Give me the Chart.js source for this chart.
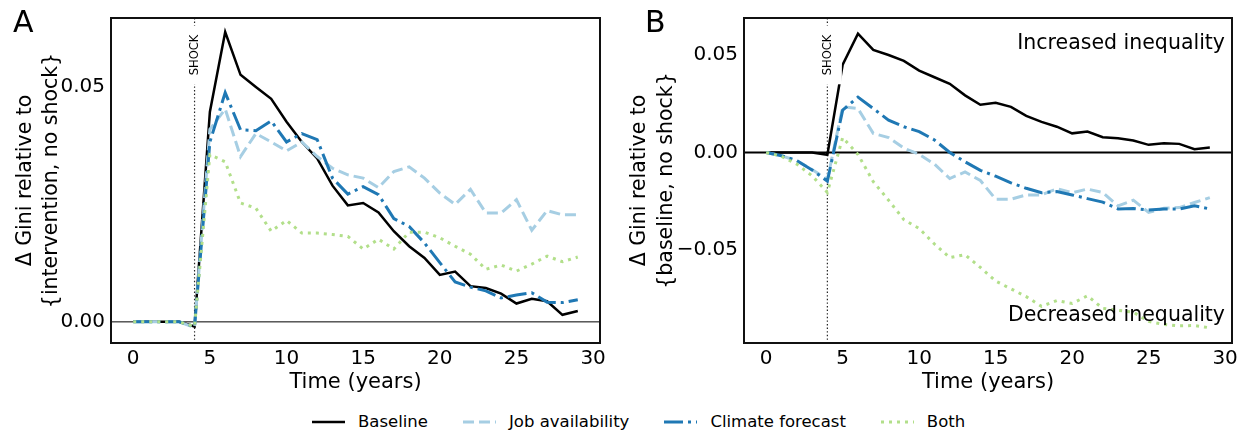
<!DOCTYPE html>
<html>
<head>
<meta charset="utf-8">
<script src="https://cdn.jsdelivr.net/npm/chart.js@4.4.1/dist/chart.umd.min.js"></script>
<style>
  html, body { margin: 0; padding: 0; background: #fff; }
  body { width: 1244px; height: 436px; position: relative; overflow: hidden; font-family: 'DejaVu Sans', sans-serif; }
  canvas { position: absolute; top: 0; }
  #chartA { left: 0; }
  #chartB { left: 622px; }
  .letter { position: absolute; top: 7px; font-size: 30px; line-height: 30px; color: #000; }
  #legend { position: absolute; left: 312px; top: 412px; display: flex; align-items: center; font-size: 16.5px; color: #000; }
  #legend .item { display: flex; align-items: center; margin-right: 35px; }
  #legend svg { margin-right: 13px; }
</style>
</head>
<body>
<canvas id="chartA" width="622" height="400"></canvas>
<canvas id="chartB" width="622" height="400"></canvas>
<div class="letter" style="left:13px">A</div>
<div class="letter" style="left:645px">B</div>
<div id="legend"></div>
<script>
const years = [0, 1, 2, 3, 4, 5, 6, 7, 8, 9, 10, 11, 12, 13, 14, 15, 16, 17, 18, 19, 20, 21, 22, 23, 24, 25, 26, 27, 28, 29];
const shockYear = 4;

// panel A: relative to {intervention, no shock}
const baselineA = [0, 0, 0, 0, -0.001, 0.0447, 0.0617, 0.0526, 0.0500, 0.0475, 0.0426, 0.0383, 0.0348, 0.0290, 0.0248,
  0.0253, 0.0233, 0.0193, 0.0161, 0.0136, 0.0100, 0.0107, 0.0076, 0.0072, 0.0060, 0.0039, 0.0049, 0.0044, 0.0015, 0.0023];
const jobA = [0, 0, 0, 0, -0.0012, 0.0410, 0.0453, 0.0352, 0.0401, 0.0383, 0.0364, 0.0383, 0.0352, 0.0327, 0.0313,
  0.0306, 0.0286, 0.0320, 0.0330, 0.0306, 0.0274, 0.0250, 0.0282, 0.0232, 0.0232, 0.0260, 0.0195, 0.0237, 0.0228, 0.0228];
const climateA = [0, 0, 0, 0, -0.001, 0.0383, 0.0488, 0.0409, 0.0407, 0.0428, 0.0383, 0.0401, 0.0388, 0.0306, 0.0272,
  0.0288, 0.0271, 0.0220, 0.0203, 0.0168, 0.0126, 0.0085, 0.0074, 0.0066, 0.0051, 0.0057, 0.0062, 0.0042, 0.0041, 0.0047];
const bothA = [0, 0, 0, 0, -0.001, 0.0356, 0.0341, 0.0253, 0.0242, 0.0193, 0.0216, 0.0189, 0.0189, 0.0186, 0.0182,
  0.0155, 0.0176, 0.0155, 0.0191, 0.0191, 0.0179, 0.0161, 0.0144, 0.0112, 0.0121, 0.0108, 0.0123, 0.0140, 0.0128, 0.0138];

// panel B: relative to {baseline, no shock}
const baselineB = [0, 0, 0, 0, -0.0012, 0.0450, 0.0610, 0.0526, 0.0500, 0.0470, 0.0420, 0.0386, 0.0352, 0.0293, 0.0245,
  0.0255, 0.0234, 0.0188, 0.0157, 0.0132, 0.0098, 0.0107, 0.0078, 0.0073, 0.0061, 0.0039, 0.0047, 0.0044, 0.0017, 0.0025];
const jobB = [0, -0.0017, -0.0042, -0.0088, -0.0139, 0.0234, 0.0225, 0.0098, 0.0076, 0.0022, -0.0010, -0.0060, -0.0134, -0.0100, -0.0144,
  -0.0240, -0.0240, -0.0218, -0.0218, -0.0186, -0.0207, -0.0188, -0.0205, -0.0274, -0.0245, -0.0308, -0.0286, -0.0283, -0.0257, -0.0232];
const climateB = [0, -0.0017, -0.0042, -0.0090, -0.0147, 0.0217, 0.0284, 0.0225, 0.0166, 0.0132, 0.0107, 0.0064, 0.0000, -0.0048, -0.0092,
  -0.0122, -0.0156, -0.0184, -0.0207, -0.0201, -0.0218, -0.0237, -0.0255, -0.0290, -0.0288, -0.0296, -0.0290, -0.0290, -0.0274, -0.0290];
const bothB = [0, -0.0020, -0.0060, -0.0120, -0.0205, 0.0076, -0.0010, -0.0150, -0.0245, -0.0345, -0.0390, -0.0470, -0.0540, -0.0525, -0.0590,
  -0.0660, -0.0700, -0.0740, -0.0790, -0.0760, -0.0775, -0.0736, -0.0800, -0.0810, -0.0820, -0.0867, -0.0883, -0.0890, -0.0888, -0.0900];

const seriesNames = ['Baseline', 'Job availability', 'Climate forecast', 'Both'];
const seriesColors = ['#000000', '#a6cee3', '#1f78b4', '#b2df8a'];
const seriesDash = [[], [11, 5], [19, 5, 3, 5], [3, 5]];
const seriesWidth = [2.5, 3, 3, 3];

const xTicks = [0, 5, 10, 15, 20, 25, 30];
const yTicksA = [0, 0.05];
const yTicksB = [-0.05, 0, 0.05];

const FONT = "'DejaVu Sans'";

function makeDatasets(seriesList) {
  return seriesList.map((vals, i) => ({
    label: seriesNames[i],
    data: years.map((t, j) => ({ x: t, y: vals[j] })),
    borderColor: seriesColors[i],
    borderWidth: seriesWidth[i],
    borderDash: seriesDash[i],
    borderCapStyle: 'butt',
    pointRadius: 0,
    tension: 0,
    fill: false,
    order: seriesList.length - i
  }));
}

function fmtTick(v) {
  const s = Math.abs(v).toFixed(2);
  return v < -1e-9 ? '\u2212' + s : s;
}

function panelPlugin(opts) {
  return {
    id: 'panelExtras',
    beforeDatasetsDraw(chart) {
      const { ctx, chartArea: a, scales } = chart;
      const y0 = scales.y.getPixelForValue(0);
      const xs = scales.x.getPixelForValue(shockYear);
      ctx.save();
      ctx.strokeStyle = '#000';
      ctx.lineWidth = opts.zeroWidth;
      ctx.beginPath();
      ctx.moveTo(a.left, y0);
      ctx.lineTo(a.right, y0);
      ctx.stroke();
      ctx.lineWidth = 1.2;
      ctx.strokeStyle = '#222';
      ctx.setLineDash([1.4, 2.2]);
      ctx.beginPath();
      ctx.moveTo(xs, a.top);
      ctx.lineTo(xs, a.bottom);
      ctx.stroke();
      ctx.restore();
    },
    afterDatasetsDraw(chart) {
      const { ctx, chartArea: a, scales } = chart;
      const xs = scales.x.getPixelForValue(shockYear);
      ctx.save();
      ctx.translate(xs, a.top + 37);
      ctx.rotate(-Math.PI / 2);
      ctx.font = '11.5px ' + FONT;
      const w = ctx.measureText('SHOCK').width;
      ctx.fillStyle = '#fff';
      ctx.fillRect(-w / 2 - 9, -14.5, w + 18, 29);
      ctx.fillStyle = '#000';
      ctx.textAlign = 'center';
      ctx.textBaseline = 'middle';
      ctx.fillText('SHOCK', 0, 0.5);
      ctx.restore();

      if (opts.notes) {
        ctx.save();
        ctx.font = '20.5px ' + FONT;
        ctx.fillStyle = '#000';
        ctx.textAlign = 'right';
        ctx.textBaseline = 'alphabetic';
        ctx.fillText('Increased inequality', a.right - 7, a.top + 31);
        ctx.fillText('Decreased inequality', a.right - 7, a.bottom - 22);
        ctx.restore();
      }

      ctx.save();
      ctx.strokeStyle = '#111';
      ctx.lineWidth = 2;
      ctx.strokeRect(a.left, a.top, a.right - a.left, a.bottom - a.top);
      ctx.restore();
    }
  };
}

function makeChart(id, seriesList, cfg) {
  const ctx = document.getElementById(id).getContext('2d');
  return new Chart(ctx, {
    type: 'line',
    data: { datasets: makeDatasets(seriesList) },
    options: {
      responsive: false,
      animation: false,
      devicePixelRatio: 1,
      layout: { padding: { left: 0, right: cfg.padRight, top: 15, bottom: 0 } },
      plugins: { legend: { display: false }, tooltip: { enabled: false } },
      scales: {
        x: {
          type: 'linear',
          min: -1.45,
          max: 30.45,
          afterBuildTicks: s => { s.ticks = xTicks.map(v => ({ value: v })); },
          afterFit: s => { s.height = 57; },
          grid: { display: false, drawTicks: false },
          border: { display: false },
          ticks: { font: { family: FONT, size: 20 }, color: '#000', padding: 4, maxRotation: 0, callback: v => String(v) },
          title: { display: true, text: 'Time (years)', font: { family: FONT, size: 21, lineHeight: 1.15 }, color: '#000', padding: { top: 0, bottom: 5 } }
        },
        y: {
          min: cfg.yMin,
          max: cfg.yMax,
          afterBuildTicks: s => { s.ticks = cfg.yTicks.map(v => ({ value: v })); },
          afterFit: s => { s.width = cfg.yWidth; },
          grid: { display: false, drawTicks: false },
          border: { display: false },
          ticks: { font: { family: FONT, size: 20 }, color: '#000', padding: 6, callback: v => fmtTick(v) },
          title: { display: true, text: cfg.yTitle, font: { family: FONT, size: 20.5, lineHeight: 1.3 }, color: '#000', padding: { top: cfg.titlePad, bottom: 0 } }
        }
      }
    },
    plugins: [panelPlugin({ zeroWidth: cfg.zeroWidth, notes: cfg.notes })]
  });
}

makeChart('chartA', [baselineA, jobA, climateA, bothA], {
  padRight: 22, yWidth: 111, yMin: -0.0045, yMax: 0.0647, yTicks: yTicksA,
  yTitle: ['\u0394 Gini relative to', '{intervention, no shock}'], titlePad: 12,
  zeroWidth: 1, notes: false
});

makeChart('chartB', [baselineB, jobB, climateB, bothB], {
  padRight: 12, yWidth: 122, yMin: -0.0978, yMax: 0.069, yTicks: yTicksB,
  yTitle: ['\u0394 Gini relative to', '{baseline, no shock}'], titlePad: 4.5,
  zeroWidth: 2, notes: true
});

// shared legend under both panels
const legend = document.getElementById('legend');
seriesNames.forEach((name, i) => {
  const item = document.createElement('div');
  item.className = 'item';
  const dash = seriesDash[i].length ? ` stroke-dasharray="${seriesDash[i].join(' ')}"` : '';
  item.innerHTML = `<svg width="33" height="10"><line x1="0" y1="5" x2="33" y2="5" stroke="${seriesColors[i]}" stroke-width="${seriesWidth[i]}"${dash}/></svg><span>${name}</span>`;
  legend.appendChild(item);
});
</script>
</body>
</html>
